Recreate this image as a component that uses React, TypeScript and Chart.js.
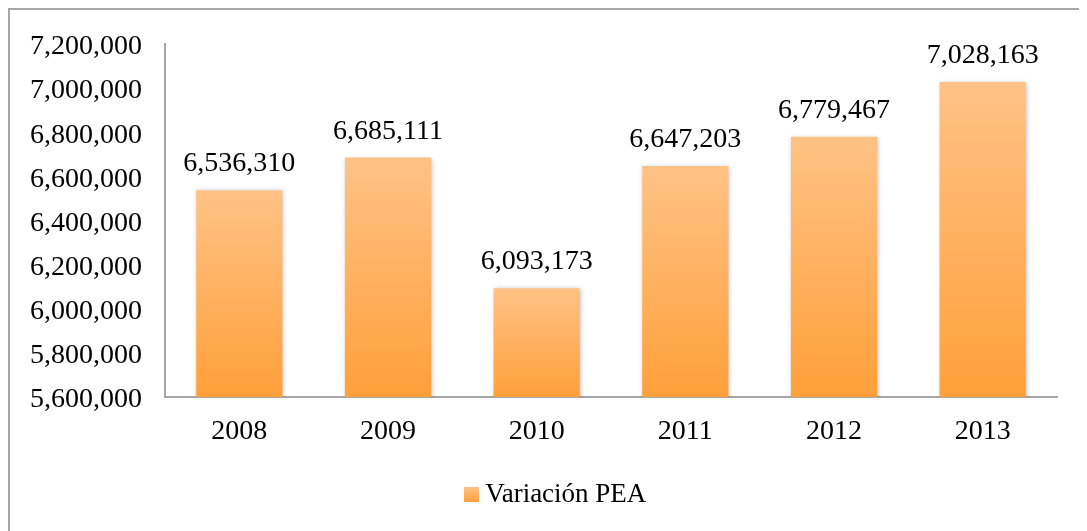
import React, { useEffect, useRef } from "react";
import { Chart, registerables } from "chart.js";

Chart.register(...registerables);

const categories = ["2008", "2009", "2010", "2011", "2012", "2013"];
const values = [6536310, 6685111, 6093173, 6647203, 6779467, 7028163];
const seriesName = "Variación PEA";
const yMin = 5600000;
const yMax = 7200000;
const yStep = 200000;

const FONT = "'Liberation Serif', 'DejaVu Serif', serif";
const TOP_COLOR = "#FFC285";
const BOTTOM_COLOR = "#FFA03A";
const fmt = (v: number) => v.toLocaleString("en-US");

export default function App() {
  const ref = useRef<HTMLCanvasElement | null>(null);

  useEffect(() => {
    if (!ref.current) return;

    // legend marker: small gradient square
    const marker = document.createElement("canvas");
    marker.width = 15;
    marker.height = 15;
    const mctx = marker.getContext("2d");
    if (mctx) {
      const mg = mctx.createLinearGradient(0, 0, 0, 15);
      mg.addColorStop(0, TOP_COLOR);
      mg.addColorStop(1, BOTTOM_COLOR);
      mctx.fillStyle = mg;
      mctx.fillRect(0, 0, 15, 15);
    }

    const shadowPlugin = {
      id: "barShadow",
      beforeDatasetsDraw(chart: any) {
        const c = chart.ctx;
        c.save();
        c.shadowColor = "rgba(0,0,0,0.28)";
        c.shadowBlur = 5;
        c.shadowOffsetX = 1;
        c.shadowOffsetY = 1;
      },
      afterDatasetsDraw(chart: any) {
        chart.ctx.restore();
      },
    };

    const legendShift = {
      id: "legendShift",
      afterLayout(chart: any) {
        const lg = chart.legend;
        if (lg) {
          lg.left += 25;
          lg.right += 25;
        }
      },
    };

    const labelPlugin = {
      id: "valueLabels",
      afterDraw(chart: any) {
        const c = chart.ctx;
        const meta = chart.getDatasetMeta(0);
        c.save();
        c.font = `28px ${FONT}`;
        c.fillStyle = "#000";
        c.textAlign = "center";
        c.textBaseline = "alphabetic";
        meta.data.forEach((bar: any, i: number) => {
          c.fillText(fmt(values[i]), bar.x, bar.y - 19);
        });
        c.restore();
      },
    };

    const chart = new Chart(ref.current, {
      type: "bar",
      data: {
        labels: categories,
        datasets: [
          {
            label: seriesName,
            data: values,
            backgroundColor: (ctx: any) => {
              const ch = ctx.chart;
              const area = ch.chartArea;
              if (!area || ctx.type !== "data") return "#FFB25C";
              const y = ch.scales.y.getPixelForValue(ctx.raw);
              const g = ch.ctx.createLinearGradient(0, y, 0, area.bottom);
              g.addColorStop(0, TOP_COLOR);
              g.addColorStop(1, BOTTOM_COLOR);
              return g;
            },
            borderWidth: 0,
            barPercentage: 0.58,
            categoryPercentage: 1,
          },
        ],
      },
      options: {
        responsive: false,
        animation: false,
        devicePixelRatio: 1,
        layout: { padding: { left: 0, right: 30, top: 34, bottom: 13 } },
        plugins: {
          tooltip: { enabled: false },
          legend: {
            display: true,
            position: "bottom",
            labels: {
              font: { family: FONT, size: 27 },
              color: "#000",
              usePointStyle: true,
              boxWidth: 1,
              boxHeight: 15,
              padding: 10,
              generateLabels: () => [
                {
                  text: seriesName,
                  fillStyle: "#FFB25C",
                  strokeStyle: "#FFB25C",
                  lineWidth: 0,
                  pointStyle: marker,
                  hidden: false,
                  datasetIndex: 0,
                },
              ],
            },
          },
        },
        scales: {
          x: {
            grid: { display: false, drawTicks: false },
            border: { display: true, color: "#a6a6a6", width: 2 },
            ticks: {
              font: { family: FONT, size: 28 },
              color: "#000",
              padding: 18,
            },
            afterFit: (s: any) => {
              s.height = 74;
            },
          },
          y: {
            min: yMin,
            max: yMax,
            grid: {
              display: false,
              drawTicks: true,
              tickLength: 23,
              tickColor: "rgba(0,0,0,0)",
            },
            border: { display: true, color: "#a6a6a6", width: 2 },
            ticks: {
              stepSize: yStep,
              font: { family: FONT, size: 28 },
              color: "#000",
              padding: 0,
              labelOffset: 3,
              callback: (v: any) => fmt(Number(v)),
            },
            afterFit: (s: any) => {
              s.width = 155;
            },
          },
        },
      },
      plugins: [shadowPlugin, legendShift, labelPlugin],
    } as any);

    return () => chart.destroy();
  }, []);

  return (
    <div
      style={{
        borderTop: "2px solid #a6a6a6",
        borderLeft: "2px solid #a6a6a6",
        width: 1077,
        height: 521,
        boxSizing: "content-box",
        background: "#fff",
      }}
    >
      <canvas ref={ref} width={1077} height={521} style={{ display: "block" }} />
    </div>
  );
}
